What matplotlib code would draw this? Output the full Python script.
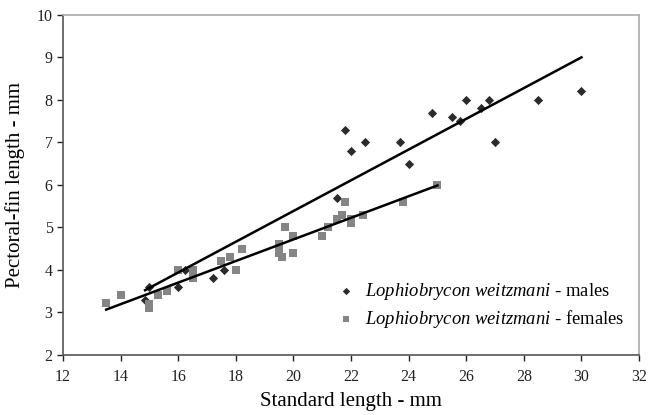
import numpy as np
import matplotlib
matplotlib.use('Agg')
from matplotlib import pyplot as plt

plt.rcParams['font.family'] = ['Liberation Serif', 'DejaVu Serif']
plt.rcParams['mathtext.fontset'] = 'custom'
plt.rcParams['mathtext.it'] = 'Liberation Serif:italic'
plt.rcParams['mathtext.rm'] = 'Liberation Serif'

# males (diamonds)
male_sl = [14.85, 15.0, 16.0, 16.25, 17.2, 17.6, 21.5, 21.8, 22.0, 22.5, 23.7,
           24.0, 24.8, 25.5, 25.8, 26.0, 26.5, 26.8, 27.0, 28.5, 30.0]
male_pf = [3.3, 3.6, 3.6, 4.0, 3.8, 4.0, 5.7, 7.3, 6.8, 7.0, 7.0,
           6.5, 7.7, 7.6, 7.5, 8.0, 7.8, 8.0, 7.0, 8.0, 8.2]

# females (squares)
female_sl = [13.5, 14.0, 15.0, 15.0, 15.3, 15.6, 16.0, 16.5, 16.5, 17.5, 17.8,
             18.0, 18.2, 19.5, 19.5, 19.5, 19.6, 19.7, 20.0, 20.0, 21.0, 21.2,
             21.5, 21.7, 21.8, 22.0, 22.0, 22.4, 23.8, 25.0]
female_pf = [3.22, 3.4, 3.2, 3.1, 3.4, 3.5, 4.0, 4.0, 3.8, 4.2, 4.3,
             4.0, 4.5, 4.6, 4.5, 4.4, 4.3, 5.0, 4.8, 4.4, 4.8, 5.0,
             5.2, 5.3, 5.6, 5.1, 5.2, 5.3, 5.6, 6.0]

xticks = np.arange(12, 33, 2)
yticks = np.arange(2, 11, 1)

fig = plt.figure(figsize=(6.59, 4.15), dpi=100)
ax = fig.add_axes([0.0956, 0.1446, 0.8741, 0.8193])

ax.scatter(male_sl, male_pf, marker='D', s=22, color='#2b2b2b', lw=0,
           label=r'$\it{Lophiobrycon\ weitzmani}$ - males', zorder=3)
ax.scatter(female_sl, female_pf, marker='s', s=30, color='#858585', lw=0,
           label=r'$\it{Lophiobrycon\ weitzmani}$ - females', zorder=3)

# linear trend lines
for xs, ys in [(male_sl, male_pf), (female_sl, female_pf)]:
    m, b = np.polyfit(xs, ys, 1)
    xx = np.array([min(xs), max(xs)])
    ax.plot(xx, m * xx + b, color='black', lw=1.8, zorder=4)

ax.set_xlim(12, 32)
ax.set_ylim(2, 10)
ax.set_xticks(xticks)
ax.set_yticks(yticks)
ax.tick_params(direction='out', length=4, width=1, labelsize=11.5, colors='#222222')
ax.tick_params(axis='x', pad=6)
for s in ['left', 'bottom']:
    ax.spines[s].set_color('#555555')
    ax.spines[s].set_linewidth(1.2)
for s in ['top', 'right']:
    ax.spines[s].set_color('#aaaaaa')
    ax.spines[s].set_linewidth(1.2)

ax.set_xlabel('Standard length - mm', fontsize=15, labelpad=5)
ax.set_ylabel('Pectoral-fin length - mm', fontsize=15, labelpad=8)

ax.legend(loc='lower left', bbox_to_anchor=(0.437, 0.035), frameon=False,
          fontsize=13.4, handletextpad=0.0, labelspacing=0.35, markerscale=0.8,
          borderpad=0.2)

fig.savefig('out.png', dpi=100)
